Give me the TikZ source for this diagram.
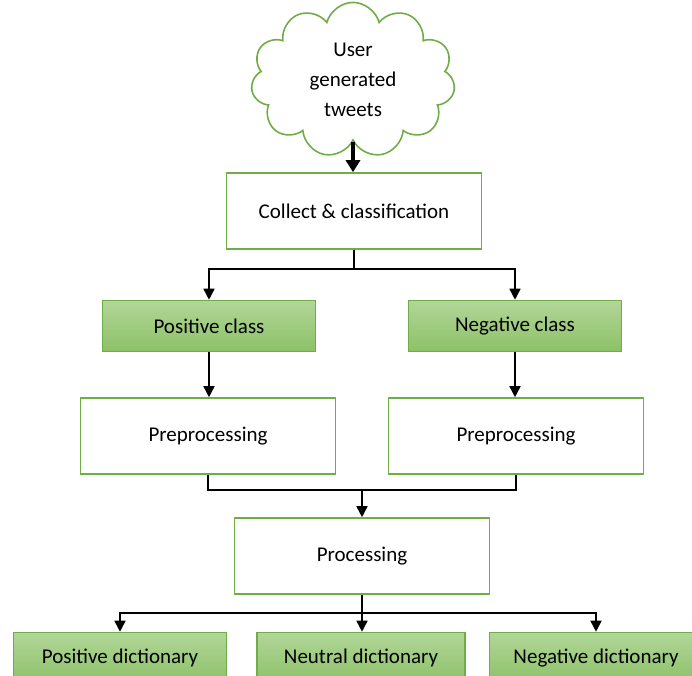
\documentclass[tikz,border=0pt]{standalone}
\usepackage{fontspec}
\setmainfont{Carlito}
\usepackage{tikz}
\usetikzlibrary{shapes.symbols , arrows.meta}
\definecolor{boxgreen}{RGB}{112,173,71}
\definecolor{filltop}{RGB}{178,214,152}
\definecolor{fillbot}{RGB}{140,193,104}

\begin{document}
\begin{tikzpicture}[x = 1pt , y = 1pt ,
    plainbox/.style = {draw = boxgreen , line width = 1.6pt , fill = white , minimum width = 255pt , minimum height = 76pt , font = \fontsize{21}{25}\selectfont},
    classbox/.style = {draw = boxgreen , line width = 1.6pt , top color = filltop , bottom color = fillbot , minimum width = 213pt , minimum height = 51pt , font = \fontsize{21}{25}\selectfont},
    wire/.style = {line width = 1.6pt},
    link/.style = {wire , -{Triangle[length = 11pt , width = 11pt]}}]
    \clip (0,0) rectangle (692,-675);
    \node[cloud , draw = boxgreen , line width = 1.6pt , fill = white , cloud puffs = 11 , minimum width = 204pt , minimum height = 126pt , align = center , font = \fontsize{21}{30}\selectfont] (tweets) at (353,-80) {User\\generated\\tweets}; % Cloud
    \node[plainbox] (collect) at (354,-211) {Collect \& classification};
    \node[classbox] (posclass) at (209,-326) {Positive class};
    \node[classbox] (negclass) at (515,-326) {Negative class};
    \node[plainbox] (prepleft) at (208,-436) {Preprocessing};
    \node[plainbox] (prepright) at (516,-436) {Preprocessing};
    \node[plainbox] (process) at (362,-556) {Processing};
    \node[classbox] (posdict) at (120,-658) {Positive dictionary};
    \node[classbox , minimum width = 208pt] (neudict) at (361,-658) {Neutral dictionary};
    \node[classbox] (negdict) at (596,-658) {Negative dictionary};
    \coordinate (join) at (362,-490); % Junction
    \draw[line width = 3.5pt , -{Triangle[length = 12pt , width = 14pt]}] (tweets.south) -- (tweets.south |- collect.north);
    \draw[link] (collect.south) -- ++(0,-19) -| (posclass.north);
    \draw[link] (collect.south) -- ++(0,-19) -| (negclass.north);
    \draw[link] (posclass.south) -- (posclass.south |- prepleft.north);
    \draw[link] (negclass.south) -- (negclass.south |- prepright.north);
    \draw[wire] (prepleft.south) |- (join) -| (prepright.south);
    \draw[link] (join) -- (process.north);
    \draw[link] (process.south) -- ++(0,-18) -| (posdict.north);
    \draw[link] (process.south) -- (process.south |- neudict.north);
    \draw[link] (process.south) -- ++(0,-18) -| (negdict.north);
\end{tikzpicture}
\end{document}
